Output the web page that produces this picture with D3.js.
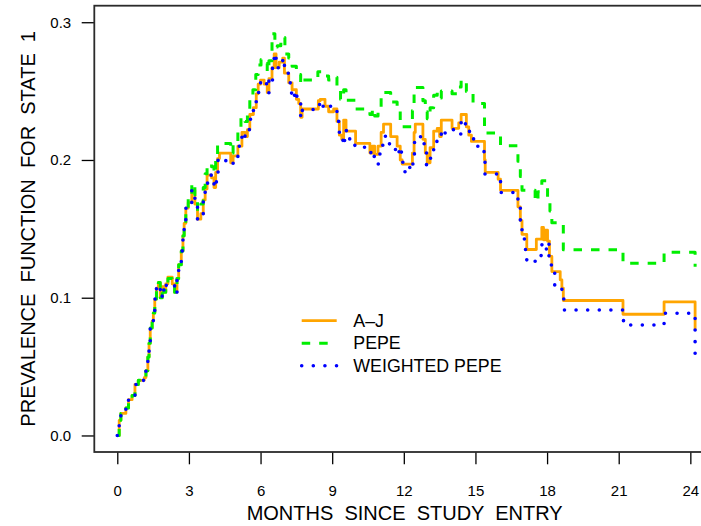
<!DOCTYPE html>
<html>
<head>
<meta charset="utf-8">
<script src="https://cdn.jsdelivr.net/npm/d3@7/dist/d3.min.js"></script>
<style>
  html, body { margin: 0; padding: 0; background: #fff; }
  svg { display: block; }
  text { font-family: "Liberation Sans", Arial, Helvetica, sans-serif; fill: #000; }
</style>
</head>
<body>
<svg id="chart" width="701" height="526"></svg>
<script>
// Prevalence function estimates for state 1, as step functions [month, value]
const ajSteps = [
  [0,0],[0.08,0.011],[0.15,0.016],[0.36,0.020],[0.47,0.026],[0.62,0.029],[0.74,0.037],[0.88,0.040],
  [1.13,0.042],[1.20,0.047],[1.28,0.057],[1.33,0.067],[1.38,0.078],[1.46,0.083],[1.51,0.089],[1.57,0.099],
  [1.64,0.107],[1.72,0.111],[1.80,0.100],[1.88,0.108],[1.95,0.104],[2.03,0.110],[2.12,0.115],[2.30,0.110],
  [2.40,0.104],[2.50,0.114],[2.57,0.124],[2.68,0.134],[2.75,0.145],[2.80,0.154],[2.87,0.165],[2.97,0.169],
  [3.12,0.178],[3.25,0.168],[3.36,0.157],[3.50,0.161],[3.60,0.171],[3.68,0.179],[3.76,0.189],[3.95,0.187],
  [4.05,0.180],[4.12,0.191],[4.20,0.201],[4.28,0.205],[4.75,0.198],[4.85,0.203],[5.05,0.210],[5.22,0.220],
  [5.35,0.217],[5.45,0.222],[5.55,0.233],[5.70,0.238],[5.82,0.248],[5.90,0.255],[6.00,0.258],[6.15,0.255],
  [6.28,0.249],[6.35,0.259],[6.48,0.267],[6.57,0.277],[6.65,0.267],[6.78,0.271],[6.93,0.274],[7.00,0.263],
  [7.18,0.256],[7.32,0.251],[7.50,0.244],[7.60,0.241],[7.68,0.231],[7.74,0.237],[8.42,0.243],[8.50,0.244],
  [8.70,0.239],[8.85,0.235],[9.06,0.237],[9.20,0.228],[9.30,0.218],[9.40,0.215],[9.48,0.229],[9.58,0.221],
  [9.98,0.212],[10.58,0.205],[10.68,0.210],[10.78,0.204],[10.92,0.210],[11.05,0.220],[11.15,0.226],[11.45,0.217],
  [11.72,0.210],[11.85,0.200],[11.93,0.197],[12.36,0.205],[12.43,0.220],[12.48,0.226],[12.80,0.215],[12.90,0.205],
  [12.98,0.198],[13.10,0.209],[13.25,0.221],[13.40,0.223],[13.50,0.217],[13.57,0.229],[14.02,0.223],[14.30,0.227],
  [14.40,0.233],[14.62,0.224],[14.72,0.218],[14.83,0.2135],[15.38,0.200],[15.41,0.191],[15.95,0.186],[16.05,0.178],
  [16.78,0.166],[16.88,0.156],[16.95,0.146],[17.15,0.135],[17.55,0.1425],[17.78,0.151],[17.85,0.142],[17.93,0.149],
  [18.02,0.141],[18.10,0.130],[18.20,0.119],[18.55,0.113],[18.62,0.107],[18.68,0.098],[21.18,0.088],[22.90,0.097],
  [24.20,0.077]
];

const pepeSteps = [
  [0,0],[0.08,0.011],[0.15,0.016],[0.36,0.020],[0.47,0.026],[0.62,0.029],[0.74,0.037],[0.88,0.040],
  [1.13,0.042],[1.20,0.047],[1.28,0.057],[1.33,0.067],[1.38,0.078],[1.46,0.083],[1.51,0.089],[1.57,0.099],
  [1.64,0.107],[1.72,0.111],[1.80,0.100],[1.88,0.108],[1.95,0.104],[2.03,0.111],[2.12,0.114],[2.30,0.110],
  [2.40,0.104],[2.50,0.114],[2.57,0.124],[2.68,0.134],[2.75,0.145],[2.80,0.154],[2.87,0.165],[2.97,0.172],
  [3.12,0.183],[3.25,0.175],[3.36,0.163],[3.50,0.168],[3.60,0.180],[3.68,0.190],[3.76,0.197],[3.95,0.195],
  [4.05,0.190],[4.12,0.202],[4.20,0.212],[4.75,0.205],[4.85,0.212],[5.05,0.221],[5.18,0.231],[5.35,0.228],
  [5.45,0.236],[5.55,0.246],[5.68,0.251],[5.80,0.262],[5.90,0.269],[6.02,0.273],[6.15,0.270],[6.28,0.264],
  [6.35,0.272],[6.48,0.2917],[6.60,0.282],[6.70,0.283],[6.85,0.287],[6.95,0.289],[7.02,0.277],[7.18,0.274],
  [7.32,0.268],[7.50,0.265],[7.62,0.262],[7.68,0.255],[7.74,0.258],[8.40,0.264],[8.72,0.261],[8.85,0.258],
  [9.06,0.260],[9.20,0.252],[9.35,0.244],[9.48,0.251],[9.58,0.2433],[9.98,0.237],[10.58,0.233],[10.68,0.237],
  [10.78,0.232],[10.92,0.238],[11.05,0.245],[11.15,0.249],[11.45,0.242],[11.72,0.236],[11.85,0.228],[11.93,0.2242],
  [12.36,0.236],[12.43,0.248],[12.48,0.2527],[12.80,0.243],[12.90,0.235],[12.98,0.230],[13.10,0.238],[13.25,0.247],
  [13.40,0.249],[13.50,0.245],[13.57,0.250],[14.02,0.248],[14.30,0.253],[14.40,0.258],[14.62,0.2497],[14.90,0.241],
  [15.38,0.2195],[15.95,0.217],[16.05,0.2103],[16.78,0.199],[16.88,0.188],[16.95,0.178],[17.50,0.170],[17.62,0.177],
  [17.78,0.185],[18.02,0.170],[18.12,0.163],[18.20,0.1545],[18.68,0.1348],[21.18,0.1251],[22.90,0.1331],[24.20,0.1225]
];

const weightedSteps = [
  [0,0],[0.08,0.011],[0.15,0.016],[0.36,0.020],[0.47,0.026],[0.62,0.029],[0.74,0.037],[0.88,0.040],
  [1.13,0.042],[1.20,0.047],[1.28,0.057],[1.33,0.067],[1.38,0.078],[1.46,0.083],[1.51,0.089],[1.57,0.099],
  [1.64,0.107],[1.72,0.109],[1.80,0.100],[1.88,0.107],[1.95,0.104],[2.03,0.109],[2.12,0.110],[2.30,0.109],
  [2.40,0.103],[2.50,0.113],[2.57,0.124],[2.68,0.134],[2.75,0.145],[2.80,0.154],[2.87,0.165],[2.97,0.169],
  [3.12,0.178],[3.25,0.167],[3.36,0.157],[3.50,0.160],[3.60,0.171],[3.68,0.179],[3.78,0.189],[3.95,0.187],
  [4.05,0.180],[4.15,0.190],[4.22,0.201],[4.30,0.1995],[4.75,0.197],[4.85,0.200],[5.05,0.210],[5.22,0.220],
  [5.35,0.217],[5.48,0.222],[5.58,0.2335],[5.70,0.238],[5.82,0.2475],[5.92,0.2545],[6.00,0.2577],[6.15,0.2553],
  [6.28,0.2487],[6.35,0.259],[6.45,0.2565],[6.50,0.267],[6.57,0.2773],[6.65,0.267],[6.78,0.271],[6.93,0.274],
  [7.00,0.263],[7.22,0.256],[7.30,0.2446],[7.42,0.250],[7.52,0.2444],[7.60,0.2415],[7.68,0.2305],[7.75,0.2366],
  [8.42,0.2403],[8.52,0.2426],[8.62,0.239],[8.75,0.2375],[8.85,0.239],[9.20,0.228],[9.30,0.218],[9.45,0.2106],
  [9.52,0.2213],[9.60,0.2153],[9.95,0.2092],[10.50,0.207],[10.62,0.201],[10.70,0.2026],[10.80,0.1971],[11.00,0.2068],
  [11.12,0.2172],[11.40,0.2116],[11.65,0.2039],[11.80,0.2092],[11.90,0.1983],[12.05,0.1905],[12.25,0.1953],[12.32,0.1935],
  [12.38,0.2044],[12.45,0.2148],[12.70,0.2172],[12.85,0.2068],[12.95,0.1962],[13.12,0.2031],[13.25,0.2135],[13.50,0.2172],
  [13.57,0.222],[13.65,0.2196],[14.05,0.222],[14.25,0.2189],[14.40,0.2293],[14.58,0.2237],[14.75,0.2153],[15.10,0.2082],
  [15.36,0.2002],[15.40,0.1898],[15.95,0.1873],[16.05,0.1764],[16.78,0.1663],[16.88,0.1559],[16.95,0.1449],[17.05,0.135],
  [17.15,0.1258],[17.50,0.1304],[17.75,0.1384],[17.85,0.1343],[17.97,0.1404],[18.08,0.1295],[18.18,0.1195],[18.32,0.1088],
  [18.62,0.1015],[18.70,0.0911],[21.20,0.0802],[22.90,0.0887],[24.20,0.0591]
];

const xTicks = [0, 3, 6, 9, 12, 15, 18, 21, 24];
const yTicks = [0, 0.1, 0.2, 0.3];
const seriesNames = ["A\u2013J", "PEPE", "WEIGHTED PEPE"];
const xTitle = "MONTHS  SINCE  STUDY  ENTRY";
const yTitle = "PREVALENCE  FUNCTION  FOR  STATE  1";

// Plot region and axis limits (padded by 4% on each side)
const plot = { left: 94.3, right: 715, top: 5.7, bottom: 452 };
const xlim = [0, 24.07], ylim = [0, 0.3];
const pad = (lim) => { const d = (lim[1] - lim[0]) * 0.04; return [lim[0] - d, lim[1] + d]; };

const x = d3.scaleLinear().domain(pad(xlim)).range([plot.left, plot.right]);
const y = d3.scaleLinear().domain(pad(ylim)).range([plot.bottom, plot.top]);

const svg = d3.select("#chart");

const series = [
  { name: seriesNames[0], data: ajSteps, color: "#FFA500", width: 2.8, dash: null, cap: "butt" },
  { name: seriesNames[1], data: pepeSteps, color: "#00EE00", width: 3, dash: "8.5,9", cap: "butt" },
  { name: seriesNames[2], data: weightedSteps, color: "#0000FF", width: 3.6, dash: "0.01,11.6", cap: "round" }
];

const line = d3.line()
  .x(d => x(d[0]))
  .y(d => y(d[1]))
  .curve(d3.curveStepAfter);

svg.append("g").selectAll("path")
  .data(series)
  .join("path")
  .attr("d", s => line(s.data))
  .attr("fill", "none")
  .attr("stroke", s => s.color)
  .attr("stroke-width", s => s.width)
  .attr("stroke-dasharray", s => s.dash)
  .attr("stroke-linecap", s => s.cap)
  .attr("stroke-linejoin", "round");

// Axes
const xAxis = svg.append("g")
  .attr("transform", `translate(0,${plot.bottom})`)
  .call(d3.axisBottom(x).tickValues(xTicks).tickFormat(d3.format("d")).tickSize(12.3).tickSizeOuter(0).tickPadding(21));
const yAxis = svg.append("g")
  .attr("transform", `translate(${plot.left},0)`)
  .call(d3.axisLeft(y).tickValues(yTicks).tickFormat(d3.format(".1f")).tickSize(12.6).tickSizeOuter(0).tickPadding(10.5));

[xAxis, yAxis].forEach(g => {
  g.select(".domain").remove();
  g.selectAll(".tick line").attr("stroke", "#000").attr("stroke-width", 1.3);
  g.selectAll(".tick text")
    .style("font-family", '"Liberation Sans", Arial, sans-serif')
    .style("font-size", "15px")
    .attr("fill", "#000");
});

// Frame
svg.append("rect")
  .attr("x", plot.left).attr("y", plot.top)
  .attr("width", plot.right - plot.left).attr("height", plot.bottom - plot.top)
  .attr("fill", "none").attr("stroke", "#2b2b2b").attr("stroke-width", 1.8);

// Axis titles
svg.append("text")
  .attr("x", (plot.left + plot.right) / 2).attr("y", 519.5)
  .attr("text-anchor", "middle")
  .style("font-size", "20px").style("white-space", "pre")
  .text(xTitle);

svg.append("text")
  .attr("transform", `translate(35,${(plot.top + plot.bottom) / 2}) rotate(-90)`)
  .attr("text-anchor", "middle")
  .style("font-size", "20px").style("white-space", "pre")
  .text(yTitle);

// Legend
const legend = svg.append("g").attr("transform", "translate(301.7,320.7)");
const rows = legend.selectAll("g").data(series).join("g")
  .attr("transform", (d, i) => `translate(0,${i * 22.5})`);
rows.append("line")
  .attr("x1", 0).attr("x2", 35).attr("y1", 0).attr("y2", 0)
  .attr("stroke", d => d.color)
  .attr("stroke-width", d => d.width)
  .attr("stroke-dasharray", d => d.dash)
  .attr("stroke-linecap", d => d.cap);
rows.append("text")
  .attr("x", 51.6).attr("y", 6.2)
  .style("font-size", "17.8px")
  .text(d => d.name);
</script>
</body>
</html>
